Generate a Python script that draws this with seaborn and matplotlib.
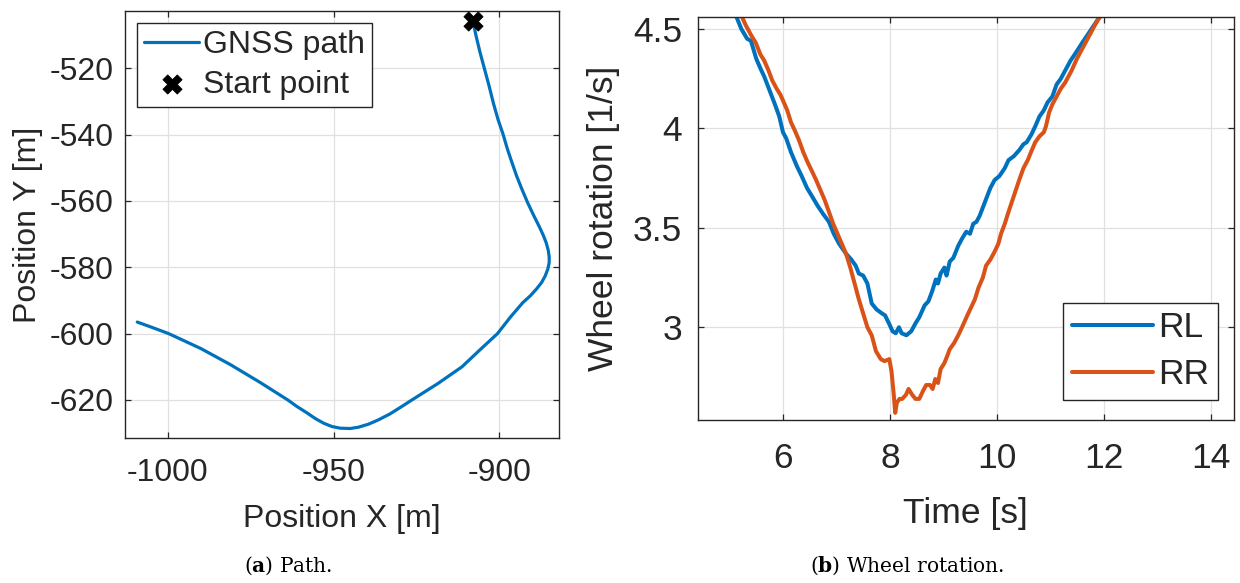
import matplotlib
matplotlib.use("Agg")
import matplotlib.pyplot as plt
import seaborn as sns

# ---- panel (a): GNSS path -------------------------------------------------
path_x = [-908.0, -907.1, -905.9, -904.5, -903.2, -901.8, -900.4, -898.9, -897.7,
          -896.3, -894.8, -893.2, -891.5, -889.6, -888.0, -886.8, -885.9, -885.3,
          -885.0, -885.0, -885.4, -886.2, -887.3, -888.8, -890.7, -893.0, -896.6,
          -900.6, -906.0, -911.3, -918.5, -926.4, -929.5, -933.0, -936.5, -939.5,
          -942.5, -945.0, -948.0, -950.5, -953.0, -955.5, -958.0, -961.0, -963.8,
          -972.0, -981.0, -990.0, -999.7, -1004.5, -1009.2]
path_y = [-505.7, -510.0, -515.0, -520.2, -525.0, -530.6, -535.5, -539.9, -544.0,
          -548.2, -552.5, -556.5, -560.5, -564.5, -567.7, -570.3, -572.6, -574.8,
          -576.8, -578.6, -580.5, -582.6, -584.6, -586.5, -588.6, -590.7, -594.9,
          -600.0, -605.0, -610.0, -615.0, -620.0, -622.0, -624.2, -626.0, -627.3,
          -628.2, -628.6, -628.5, -628.0, -627.0, -625.6, -623.9, -622.0, -620.0,
          -614.8, -609.4, -604.5, -600.0, -598.2, -596.5]
start_x = [-908.0]
start_y = [-505.7]

# ---- panel (b): wheel rotation --------------------------------------------
t_rl = [5.10, 5.22, 5.33, 5.40, 5.50, 5.58, 5.65, 5.75, 5.85, 5.93, 6.00, 6.06,
        6.15, 6.26, 6.35, 6.45, 6.54, 6.65, 6.75, 6.86, 6.95, 7.05, 7.18, 7.28,
        7.36, 7.42, 7.50, 7.58, 7.66, 7.75, 7.85, 7.91, 8.00, 8.05, 8.11, 8.17,
        8.22, 8.31, 8.40, 8.48, 8.55, 8.65, 8.72, 8.79, 8.86, 8.90, 8.95, 9.02,
        9.06, 9.12, 9.19, 9.28, 9.36, 9.43, 9.50, 9.56, 9.62, 9.68, 9.78, 9.88,
        9.96, 10.05, 10.15, 10.22, 10.32, 10.42, 10.50, 10.56, 10.65, 10.72,
        10.80, 10.88, 10.95, 11.04, 11.12, 11.20, 11.28, 11.38, 11.48, 11.60,
        11.75, 11.90, 12.00]
rl = [4.58, 4.50, 4.45, 4.44, 4.35, 4.30, 4.26, 4.19, 4.12, 4.06, 3.98, 3.95,
      3.88, 3.81, 3.76, 3.70, 3.66, 3.61, 3.57, 3.53, 3.47, 3.42, 3.37, 3.34,
      3.31, 3.27, 3.26, 3.22, 3.12, 3.09, 3.07, 3.06, 3.01, 2.98, 2.97, 3.00,
      2.97, 2.96, 2.98, 3.02, 3.05, 3.11, 3.13, 3.18, 3.24, 3.22, 3.27, 3.30,
      3.26, 3.33, 3.35, 3.41, 3.45, 3.48, 3.47, 3.52, 3.53, 3.56, 3.63, 3.70,
      3.74, 3.76, 3.80, 3.84, 3.86, 3.89, 3.92, 3.93, 3.97, 4.01, 4.06, 4.09,
      4.13, 4.16, 4.22, 4.25, 4.29, 4.34, 4.38, 4.43, 4.49, 4.55, 4.58]

t_rr = [5.20, 5.30, 5.40, 5.49, 5.58, 5.65, 5.73, 5.80, 5.88, 5.95, 6.00, 6.08,
        6.15, 6.22, 6.30, 6.38, 6.46, 6.55, 6.62, 6.70, 6.78, 6.86, 6.94, 7.02,
        7.10, 7.18, 7.26, 7.34, 7.42, 7.50, 7.58, 7.66, 7.74, 7.83, 7.90, 7.99,
        8.03, 8.07, 8.10, 8.13, 8.18, 8.23, 8.30, 8.35, 8.42, 8.48, 8.55, 8.62,
        8.68, 8.75, 8.80, 8.85, 8.90, 8.95, 9.02, 9.08, 9.12, 9.20, 9.28, 9.35,
        9.45, 9.52, 9.59, 9.66, 9.74, 9.80, 9.88, 9.96, 10.03, 10.08, 10.15,
        10.22, 10.32, 10.42, 10.50, 10.58, 10.64, 10.72, 10.80, 10.88, 10.92,
        10.98, 11.04, 11.12, 11.20, 11.28, 11.40, 11.50, 11.60, 11.72, 11.84,
        11.95, 12.02]
rr = [4.58, 4.52, 4.47, 4.43, 4.37, 4.34, 4.29, 4.24, 4.20, 4.17, 4.14, 4.09,
      4.03, 3.99, 3.94, 3.88, 3.83, 3.78, 3.74, 3.69, 3.64, 3.58, 3.52, 3.47,
      3.42, 3.37, 3.30, 3.22, 3.14, 3.07, 3.00, 2.96, 2.88, 2.84, 2.83, 2.84,
      2.78, 2.67, 2.57, 2.62, 2.64, 2.64, 2.66, 2.69, 2.66, 2.64, 2.64, 2.68,
      2.71, 2.71, 2.69, 2.74, 2.72, 2.79, 2.82, 2.86, 2.89, 2.92, 2.96, 3.00,
      3.06, 3.10, 3.14, 3.20, 3.25, 3.31, 3.34, 3.38, 3.42, 3.47, 3.52, 3.58,
      3.66, 3.74, 3.80, 3.84, 3.88, 3.93, 3.96, 3.98, 4.01, 4.08, 4.12, 4.16,
      4.20, 4.23, 4.29, 4.35, 4.40, 4.46, 4.52, 4.57, 4.60]

xticks_a = [-1000, -950, -900]
yticks_a = [-620, -600, -580, -560, -540, -520]
xticks_b = [6, 8, 10, 12, 14]
yticks_b = [3, 3.5, 4, 4.5]
ytick_labels_b = ["3", "3.5", "4", "4.5"]

BLUE = "#0072BD"
ORANGE = "#D95319"
INK = "#262626"

sns.set_theme(style="white")
plt.rcParams["font.family"] = ["Liberation Sans", "DejaVu Sans"]
plt.rcParams["text.color"] = INK
plt.rcParams["axes.labelcolor"] = INK
plt.rcParams["axes.unicode_minus"] = False
plt.rcParams["mathtext.fontset"] = "custom"
plt.rcParams["mathtext.rm"] = "DejaVu Serif"
plt.rcParams["mathtext.bf"] = "DejaVu Serif:bold"

fig = plt.figure(figsize=(12.4, 5.83), dpi=100)
W, H = 1240, 583


def axes_px(x0, y0, x1, y1):
    return fig.add_axes([x0 / W, 1 - y1 / H, (x1 - x0) / W, (y1 - y0) / H])


def style_axes(ax, size, xpad, ypad):
    for s in ax.spines.values():
        s.set_color(INK)
        s.set_linewidth(1.0)
    ax.grid(True, color="#e0e0e0", linewidth=0.9)
    ax.set_axisbelow(True)
    ax.tick_params(direction="in", length=4, width=0.9, color=INK,
                   labelcolor=INK, labelsize=size,
                   top=True, right=True, bottom=True, left=True)
    ax.tick_params(axis="x", pad=xpad)
    ax.tick_params(axis="y", pad=ypad)


def place_labels(ax, xlab, ylab, size, xbase, ybase):
    ax.set_xlabel(xlab, fontsize=size)
    ax.set_ylabel(ylab, fontsize=size)
    ax.xaxis.label.set_verticalalignment("baseline")
    ax.yaxis.label.set_verticalalignment("baseline")
    ax.xaxis.set_label_coords(0.5, xbase)
    ax.yaxis.set_label_coords(ybase, 0.5)


# ---- (a) ------------------------------------------------------------------
FS_A = 23
ax1 = axes_px(125.3, 11.25, 558.8, 437.8)
sns.lineplot(x=path_x, y=path_y, sort=False, estimator=None, ax=ax1,
             color=BLUE, linewidth=2.3, label="GNSS path")
sns.scatterplot(x=start_x, y=start_y, ax=ax1, marker="X", s=190,
                color="black", edgecolor="black", linewidth=0.6,
                label="Start point", zorder=5, clip_on=False)
ax1.set_xlim(-1012.8, -882.1)
ax1.set_ylim(-631.4, -502.8)
ax1.set_xticks(xticks_a)
ax1.set_yticks(yticks_a)
style_axes(ax1, FS_A, 14.5, 8.4)
place_labels(ax1, "Position X [m]", "Position Y [m]", FS_A, -0.208, -0.2065)
leg1 = ax1.legend(loc="upper left", bbox_to_anchor=(0.0277, 0.9717),
                  borderaxespad=0, fontsize=FS_A, fancybox=False,
                  framealpha=1, edgecolor=INK, handlelength=1.72,
                  handletextpad=0.12, borderpad=0.22, labelspacing=0.29)
leg1.get_frame().set_linewidth(1.0)

# ---- (b) ------------------------------------------------------------------
FS_B = 25.5
ax2 = axes_px(698, 16.5, 1233.5, 420)
sns.lineplot(x=t_rl, y=rl, sort=False, estimator=None, ax=ax2,
             color=BLUE, linewidth=2.9, label="RL")
sns.lineplot(x=t_rr, y=rr, sort=False, estimator=None, ax=ax2,
             color=ORANGE, linewidth=2.9, label="RR")
ax2.set_xlim(4.41, 14.43)
ax2.set_ylim(2.534, 4.562)
ax2.set_xticks(xticks_b)
ax2.set_yticks(yticks_b)
ax2.set_yticklabels(ytick_labels_b)
style_axes(ax2, FS_B, 16, 11.5)
place_labels(ax2, "Time [s]", "Wheel rotation [1/s]", FS_B, -0.256, -0.158)
leg2 = ax2.legend(loc="lower right", bbox_to_anchor=(0.9716, 0.0495),
                  borderaxespad=0, fontsize=FS_B, fancybox=False,
                  framealpha=1, edgecolor=INK, handlelength=2.3,
                  handletextpad=0.14, borderpad=0.25, labelspacing=0.39)
leg2.get_frame().set_linewidth(1.0)

# ---- captions -------------------------------------------------------------
fig.text(288 / W, 1 - 571.7 / H, r"($\mathbf{a}$) Path.", ha="center",
         va="baseline", fontsize=14.5, family="DejaVu Serif", color="black")
fig.text(907.5 / W, 1 - 571.7 / H, r"($\mathbf{b}$) Wheel rotation.",
         ha="center", va="baseline", fontsize=14.5, family="DejaVu Serif",
         color="black")

fig.savefig("out.png", dpi=100, facecolor="white")
